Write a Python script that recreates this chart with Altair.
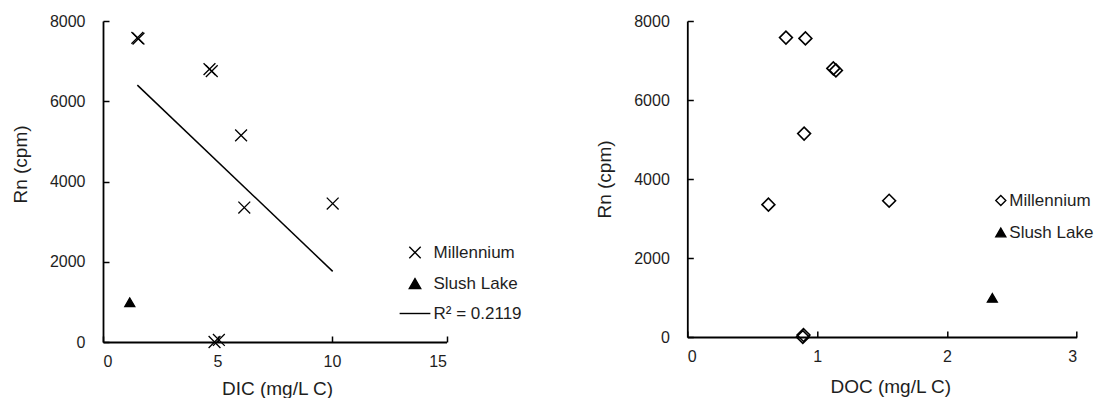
import altair as alt
import pandas as pd

# Radon activity vs. dissolved carbon, Millennium vs. Slush Lake samples
series = ["Millennium"] * 9 + ["Slush Lake"]
rn_cpm = [7580, 7560, 6800, 6750, 5150, 3350, 3450, 0, 50, 990]
dic_mgl = [1.50, 1.55, 4.65, 4.75, 6.03, 6.17, 10.03, 4.87, 5.06, 1.17]
doc_mgl = [0.76, 0.91, 1.125, 1.145, 0.90, 0.625, 1.555, 0.89, 0.895, 2.35]
r2_label = "R² = 0.2119"

dic_ticks = [0, 5, 10, 15]
doc_ticks = [0, 1, 2, 3]
rn_ticks = [0, 2000, 4000, 6000, 8000]

df = pd.DataFrame({"series": series, "rn": rn_cpm, "dic": dic_mgl, "doc": doc_mgl})

FONT = "Liberation Sans"
TEXT = "#1e1e1e"
X_PATH = "M-1,-1L1,1M-1,1L1,-1"
LINE_PATH = "M-2.7,0H2.7"
TICK_IN = {"expr": "-6"}


def x_axis(values, title, title_x, title_y):
    return alt.Axis(
        values=values, format="d", title=title, grid=False,
        domainColor="black", domainWidth=1.8,
        tickColor="black", tickWidth=1.5, tickSize=TICK_IN,
        labelFont=FONT, labelFontSize=16, labelColor=TEXT, labelPadding=17,
        titleFont=FONT, titleFontSize=19, titleFontWeight="normal", titleColor=TEXT,
        titleX=title_x, titleY=title_y, titleBaseline="middle",
    )


def y_axis(title_y):
    return alt.Axis(
        values=rn_ticks, format="d", title="Rn (cpm)", grid=False,
        domainColor="black", domainWidth=1.8,
        tickColor="black", tickWidth=1.5, tickSize=TICK_IN,
        labelFont=FONT, labelFontSize=16, labelColor=TEXT, labelPadding=24,
        titleFont=FONT, titleFontSize=19, titleFontWeight="normal", titleColor=TEXT,
        titleX=-83, titleY=title_y, titleBaseline="middle", titleAngle=270,
    )


def legend(lx, ly, size, offset, row_pad):
    return alt.Legend(
        orient="none", legendX=lx, legendY=ly, title=None, padding=0,
        labelFont=FONT, labelFontSize=17, labelColor=TEXT, labelOffset=offset,
        symbolSize=size, symbolStrokeWidth=1.4, rowPadding=row_pad,
    )


def series_points(x_enc, y_enc, name, size, width, dom, shapes, fills, leg):
    """One series of symbols; shape/fill/stroke share scales so the legend merges."""
    return (
        alt.Chart(df)
        .transform_filter(alt.datum.series == name)
        .mark_point(filled=True, size=size, strokeWidth=width, opacity=1)
        .encode(
            x=x_enc, y=y_enc,
            shape=alt.Shape("series:N", scale=alt.Scale(domain=dom, range=shapes), legend=leg),
            fill=alt.Fill("series:N", scale=alt.Scale(domain=dom, range=fills), legend=leg),
            stroke=alt.Stroke("series:N", scale=alt.Scale(domain=dom, range=["black"] * len(dom)), legend=leg),
        )
    )


# ---- left panel: DIC ----
dom_l = ["Millennium", "Slush Lake", r2_label]
shapes_l = [X_PATH, "triangle-up", LINE_PATH]
fills_l = ["transparent", "black", "transparent"]
leg_l = legend(303.5, 223, 130, 10, 12)
y_l = alt.Y("rn:Q", scale=alt.Scale(domain=[0, 8000], nice=False), axis=y_axis(143))
x_l = alt.X("dic:Q", scale=alt.Scale(domain=[0, 15], nice=False),
            axis=x_axis(dic_ticks, "DIC (mg/L C)", 174, 46))

mill_l = series_points(x_l, y_l, "Millennium", 140, 1.3, dom_l, shapes_l, fills_l, leg_l)
slush_l = series_points(x_l, y_l, "Slush Lake", 100, 1.3, dom_l, shapes_l, fills_l, leg_l)
fit_l = (
    alt.Chart(df)
    .transform_filter(alt.datum.series == "Millennium")
    .transform_regression("dic", "rn")
    .mark_line(color="black", strokeWidth=1.5)
    .encode(x=x_l, y=y_l)
)
left = alt.layer(mill_l, slush_l, fit_l).properties(width=343.5, height=321)

# ---- right panel: DOC ----
dom_r = ["Millennium", "Slush Lake"]
shapes_r = ["diamond", "triangle-up"]
fills_r = ["transparent", "black"]
leg_r = legend(305, 171, 100, 0, 14)
y_r = alt.Y("rn:Q", scale=alt.Scale(domain=[0, 8000], nice=False), axis=y_axis(158))
x_r = alt.X("doc:Q", scale=alt.Scale(domain=[0, 3], nice=False),
            axis=x_axis(doc_ticks, "DOC (mg/L C)", 203, 49))

mill_r = series_points(x_r, y_r, "Millennium", 165, 1.6, dom_r, shapes_r, fills_r, leg_r)
slush_r = series_points(x_r, y_r, "Slush Lake", 100, 1.3, dom_r, shapes_r, fills_r, leg_r)
right = alt.layer(mill_r, slush_r).properties(width=389.4, height=316)

chart = (
    alt.hconcat(left, right, spacing=240.3, bounds="flush")
    .resolve_scale(shape="independent", fill="independent", stroke="independent",
                   x="independent", y="independent")
    .resolve_legend(shape="independent", fill="independent", stroke="independent")
    .properties(padding={"left": 11, "top": 13, "right": 0, "bottom": 0}, background="white")
    .configure_view(stroke=None)
)

chart.save("out.html", embed_options={"renderer": "svg", "actions": False})
